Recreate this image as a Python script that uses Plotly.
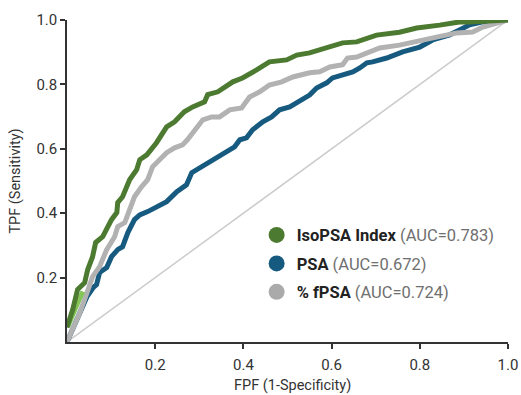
import plotly.graph_objects as go

# ---- data ----
iso_fpf = [0.0, 0.010, 0.013, 0.024, 0.040, 0.047, 0.058, 0.065, 0.081, 0.101, 0.113, 0.115, 0.126,
           0.142, 0.158, 0.165, 0.181, 0.203, 0.226, 0.244, 0.266, 0.285, 0.312, 0.319, 0.342,
           0.376, 0.398, 0.430, 0.459, 0.498, 0.521, 0.550, 0.589, 0.625, 0.657, 0.679, 0.702,
           0.754, 0.793, 0.845, 0.890, 0.913, 1.0]
iso_tpf = [0.045, 0.080, 0.101, 0.163, 0.184, 0.225, 0.265, 0.309, 0.327, 0.380, 0.402, 0.433, 0.451,
           0.504, 0.535, 0.566, 0.581, 0.619, 0.668, 0.684, 0.715, 0.730, 0.746, 0.768, 0.777,
           0.808, 0.820, 0.845, 0.870, 0.876, 0.891, 0.898, 0.916, 0.929, 0.932, 0.944, 0.953,
           0.962, 0.975, 0.984, 0.994, 0.994, 1.0]

iso_start_fpf = [0.002, 0.012, 0.024, 0.036]
iso_start_tpf = [0.049, 0.085, 0.120, 0.157]

psa_fpf = [0.0, 0.013, 0.029, 0.045, 0.060, 0.067, 0.074, 0.090, 0.101, 0.115, 0.126, 0.138, 0.153,
           0.165, 0.183, 0.203, 0.226, 0.249, 0.271, 0.283, 0.301, 0.323, 0.342, 0.362, 0.380,
           0.392, 0.407, 0.421, 0.444, 0.464, 0.482, 0.505, 0.527, 0.550, 0.566, 0.589, 0.602,
           0.625, 0.648, 0.664, 0.680, 0.693, 0.725, 0.761, 0.800, 0.829, 0.868, 0.890, 0.913,
           0.943, 1.0]
psa_tpf = [0.0, 0.040, 0.090, 0.140, 0.170, 0.178, 0.216, 0.231, 0.265, 0.287, 0.296, 0.340, 0.380,
           0.395, 0.405, 0.420, 0.436, 0.467, 0.488, 0.526, 0.541, 0.557, 0.572, 0.591, 0.606,
           0.628, 0.634, 0.659, 0.684, 0.699, 0.721, 0.730, 0.746, 0.767, 0.789, 0.805, 0.820,
           0.829, 0.839, 0.851, 0.867, 0.870, 0.882, 0.901, 0.916, 0.938, 0.954, 0.969, 0.985,
           0.994, 1.0]

fpsa_fpf = [0.0, 0.013, 0.029, 0.040, 0.051, 0.058, 0.074, 0.090, 0.108, 0.115, 0.131, 0.142, 0.153,
            0.169, 0.183, 0.194, 0.210, 0.226, 0.244, 0.262, 0.273, 0.294, 0.308, 0.328, 0.346,
            0.369, 0.396, 0.414, 0.437, 0.459, 0.487, 0.512, 0.550, 0.573, 0.596, 0.625, 0.636,
            0.657, 0.680, 0.709, 0.754, 0.793, 0.838, 0.884, 0.920, 0.943, 0.965, 1.0]
fpsa_tpf = [0.0, 0.039, 0.091, 0.132, 0.172, 0.203, 0.234, 0.287, 0.327, 0.358, 0.371, 0.411, 0.451,
            0.482, 0.504, 0.544, 0.566, 0.588, 0.603, 0.612, 0.628, 0.668, 0.690, 0.699, 0.699,
            0.721, 0.727, 0.761, 0.777, 0.798, 0.808, 0.823, 0.836, 0.839, 0.854, 0.861, 0.882,
            0.885, 0.898, 0.913, 0.922, 0.932, 0.947, 0.960, 0.963, 0.978, 0.985, 1.0]

series_names = ["<b>IsoPSA Index</b> <span style='color:#6f6f6f'>(AUC=0.783)</span>",
                "<b>PSA</b> <span style='color:#6f6f6f'>(AUC=0.672)</span>",
                "<b>% fPSA</b> <span style='color:#6f6f6f'>(AUC=0.724)</span>"]
tick_vals = [0.2, 0.4, 0.6, 0.8, 1.0]
tick_text = ["0.2", "0.4", "0.6", "0.8", "1.0"]
x_title = "FPF (1-Specificity)"
y_title = "TPF (Sensitivity)"

GREEN = "#4c7a30"
BLUE = "#175a80"
GRAY = "#b2b2b2"
LIME = "#86c45a"

fig = go.Figure()

# chance diagonal
fig.add_trace(go.Scatter(x=[0, 1], y=[0, 1], mode="lines",
                         line=dict(color="#cccccc", width=1.5), showlegend=False, hoverinfo="skip"))

fig.add_trace(go.Scatter(x=psa_fpf, y=psa_tpf, mode="lines",
                         line=dict(color=BLUE, width=5), showlegend=False))
fig.add_trace(go.Scatter(x=fpsa_fpf, y=fpsa_tpf, mode="lines",
                         line=dict(color=GRAY, width=5), showlegend=False))
fig.add_trace(go.Scatter(x=iso_start_fpf, y=iso_start_tpf, mode="lines",
                         line=dict(color=LIME, width=5), showlegend=False))
fig.add_trace(go.Scatter(x=iso_fpf, y=iso_tpf, mode="lines",
                         line=dict(color=GREEN, width=5), showlegend=False))

# legend entries (circle markers)
for i, (name, col) in enumerate(zip(series_names, [GREEN, BLUE, "#aaaaaa"])):
    fig.add_trace(go.Scatter(x=[None], y=[None], mode="markers", name=name,
                             legendgroup=f"g{i}",
                             marker=dict(color=col, size=20, symbol="circle")))

axis_common = dict(
    range=[0, 1], showgrid=False, zeroline=False, showline=True, automargin=False,
    linecolor="#333333", linewidth=1.5, ticks="outside", ticklen=5,
    tickcolor="#333333", tickwidth=1.5, tickvals=tick_vals, ticktext=tick_text,
    tickfont=dict(size=15, color="#333333"),
)

fig.update_layout(
    width=521, height=395,
    margin=dict(l=67, r=13, t=20, b=53),
    paper_bgcolor="white", plot_bgcolor="white",
    font=dict(family="Roboto, Liberation Sans, sans-serif", color="#333333"),
    xaxis=dict(**axis_common, ticklabelstandoff=3),
    yaxis=dict(**axis_common,
               title=dict(text=y_title, font=dict(size=14.5, color="#333333"), standoff=12)),
    legend=dict(x=0.430, y=0.386, xanchor="left", yanchor="top",
                bgcolor="rgba(0,0,0,0)", font=dict(size=16.5, color="#222222"),
                itemsizing="trace", tracegroupgap=4),
    annotations=[dict(text=x_title, xref="paper", yref="paper", x=0.512, y=-0.135,
                      xanchor="center", yanchor="middle", showarrow=False,
                      font=dict(size=14.5, color="#333333"))],
)

fig.write_html("out.html", config={"displayModeBar": False},
               post_script="document.body.style.margin='0';document.body.style.padding='0';")
